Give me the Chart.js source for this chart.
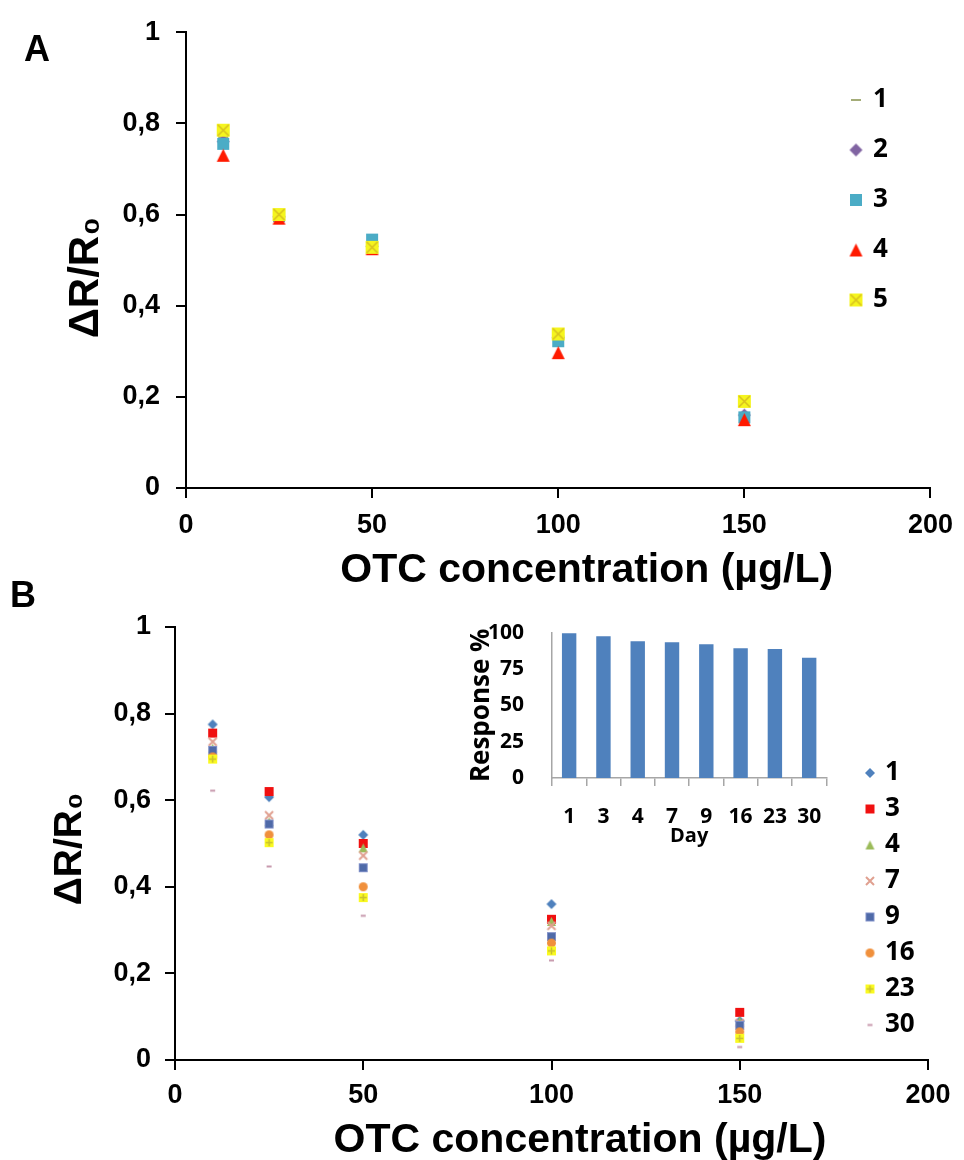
<!DOCTYPE html>
<html>
<head>
<meta charset="utf-8">
<script src="https://cdn.jsdelivr.net/npm/chart.js@4.4.1/dist/chart.umd.min.js"></script>
<style>
  body { margin: 0; background: #fff; }
  #page { position: relative; width: 964px; height: 1160px; overflow: hidden; background: #fff; }
  canvas { position: absolute; }
  .panel { position: absolute; font: bold 36px "Liberation Sans", Arial, sans-serif; color: #000; }
</style>
</head>
<body>
<div id="page">
  <canvas id="chartA" width="964" height="600" style="left:0px;top:0px"></canvas>
  <canvas id="chartB" width="964" height="580" style="left:0px;top:590px"></canvas>
  <canvas id="inset" width="400" height="250" style="left:440px;top:600px"></canvas>
  <div class="panel" style="left:24px;top:28px">A</div>
  <div class="panel" style="left:10px;top:574px">B</div>
</div>
<script>
// x positions shared by both panels
const concentrations = [10, 25, 50, 100, 150];
const yTickLabels = ["0", "0,2", "0,4", "0,6", "0,8", "1"];

// panel A: five repeat measurements
const labelsA = ["1", "2", "3", "4", "5"];
const a1 = [0.77, 0.59, 0.53, 0.33, 0.16];
const a2 = [0.76, 0.595, 0.53, 0.33, 0.16];
const a3 = [0.755, 0.597, 0.545, 0.322, 0.155];
const a4 = [0.73, 0.592, 0.525, 0.297, 0.15];
const a5 = [0.785, 0.6, 0.528, 0.338, 0.19];

// panel B: storage days
const labelsB = ["1", "3", "4", "7", "9", "16", "23", "30"];
const b1 = [0.775, 0.607, 0.52, 0.36, 0.09];
const b3 = [0.755, 0.62, 0.5, 0.325, 0.11];
const b4 = [0.72, 0.55, 0.49, 0.32, 0.09];
const b7 = [0.735, 0.565, 0.472, 0.31, 0.085];
const b9 = [0.715, 0.545, 0.444, 0.285, 0.08];
const b16 = [0.7, 0.52, 0.4, 0.27, 0.065];
const b23 = [0.695, 0.502, 0.375, 0.252, 0.05];
const b30 = [0.622, 0.447, 0.333, 0.23, 0.03];

// inset
const dayLabels = ["1", "3", "4", "7", "9", "16", "23", "30"];
const responsePct = [99.5, 97.5, 94, 93.3, 92, 89.3, 88.7, 82.7];
const insetTicks = [0, 25, 50, 75, 100];

const SANS = '"Liberation Sans", Arial, sans-serif';
const OPEN = '"Open Sans", "Noto Sans", sans-serif';

// small canvases used as point styles (Excel-like markers)
function marker(shape, size, fill, line) {
  const s = size + 4;
  const c = document.createElement("canvas");
  c.width = s; c.height = s;
  const g = c.getContext("2d");
  const m = s / 2, r = size / 2;
  g.fillStyle = fill;
  g.strokeStyle = line || fill;
  g.lineWidth = 1.5;
  if (shape === "dash") {
    g.fillRect(m - r, m - 1, size, 2);
  } else if (shape === "diamond") {
    g.beginPath();
    g.moveTo(m, m - r); g.lineTo(m + r, m); g.lineTo(m, m + r); g.lineTo(m - r, m);
    g.closePath(); g.fill();
  } else if (shape === "square") {
    g.fillRect(m - r, m - r, size, size);
    if (line) { g.lineWidth = 1; g.strokeRect(m - r + 0.5, m - r + 0.5, size - 1, size - 1); }
  } else if (shape === "triangle") {
    g.beginPath();
    g.moveTo(m, m - r); g.lineTo(m + r, m + r); g.lineTo(m - r, m + r);
    g.closePath(); g.fill();
  } else if (shape === "circle") {
    g.beginPath(); g.arc(m, m, r, 0, Math.PI * 2); g.fill();
  } else if (shape === "xbox") {
    g.fillRect(m - r, m - r, size, size);
    g.beginPath();
    g.moveTo(m - r + 1, m - r + 1); g.lineTo(m + r - 1, m + r - 1);
    g.moveTo(m + r - 1, m - r + 1); g.lineTo(m - r + 1, m + r - 1);
    g.stroke();
  } else if (shape === "plusbox") {
    g.fillRect(m - r, m - r, size, size);
    g.beginPath();
    g.moveTo(m, m - r + 1); g.lineTo(m, m + r - 1);
    g.moveTo(m - r + 1, m); g.lineTo(m + r - 1, m);
    g.stroke();
  } else if (shape === "x") {
    g.lineWidth = 2;
    g.beginPath();
    g.moveTo(m - r, m - r); g.lineTo(m + r, m + r);
    g.moveTo(m + r, m - r); g.lineTo(m - r, m + r);
    g.stroke();
  }
  return c;
}

function points(ys) {
  return concentrations.map((x, i) => ({ x: x, y: ys[i] }));
}

function series(label, ys, style, i) {
  return { label: label, data: points(ys), pointStyle: style, order: -i, pointRadius: 7 };
}

// draws the legend inside the plot, using each dataset's marker
const markerLegend = {
  id: "markerLegend",
  afterDatasetsDraw(chart, args, opts) {
    const ctx = chart.ctx;
    ctx.save();
    ctx.font = opts.font;
    ctx.fillStyle = "#000";
    ctx.textBaseline = "middle";
    chart.data.datasets.forEach((ds, i) => {
      const y = opts.top + i * opts.step;
      const img = ds.pointStyle;
      ctx.drawImage(img, opts.markerX - img.width / 2, y - img.height / 2);
      ctx.fillText(ds.label, opts.textX, y);
    });
    ctx.restore();
  }
};

function scatterScales(cfg) {
  return {
    x: {
      type: "linear", min: 0, max: 200,
      ticks: { stepSize: 50, color: "#000", padding: cfg.xPad, font: { family: SANS, size: 27, weight: "bold" } },
      grid: { drawOnChartArea: false, tickLength: 10, color: "#000", lineWidth: 2 },
      border: { color: "#000", width: 2 },
      title: { display: true, text: "     OTC concentration (µg/L)", color: "#000",
        font: { family: SANS, size: 41, weight: "bold" }, padding: { top: 0, bottom: cfg.xTitlePad } },
      afterFit(s) { s.height = cfg.xHeight; }
    },
    y: {
      type: "linear", min: 0, max: 1,
      ticks: { stepSize: 0.2, color: "#000", padding: cfg.yPad,
        font: { family: SANS, size: 27, weight: "bold" },
        callback: (v) => yTickLabels[Math.round(v / 0.2)] },
      grid: { drawOnChartArea: false, tickLength: 10, color: "#000", lineWidth: 2 },
      border: { color: "#000", width: 2 },
      title: { display: true, text: cfg.yTitle, color: "#000",
        font: { family: SANS, size: cfg.yTitleSize, weight: "bold" }, padding: { top: cfg.yTitlePad, bottom: 0 } },
      afterFit(s) { s.width = cfg.yWidth; }
    }
  };
}

new Chart("chartA", {
  type: "scatter",
  data: {
    datasets: [
      series(labelsA[0], a1, marker("dash", 10, "#A4AC78"), 0),
      series(labelsA[1], a2, marker("diamond", 13, "#8064A2"), 1),
      series(labelsA[2], a3, marker("square", 12, "#4BACC6"), 2),
      series(labelsA[3], a4, marker("triangle", 13, "#FF1A00"), 3),
      series(labelsA[4], a5, marker("xbox", 13, "#F5F51E", "#D8C020"), 4)
    ]
  },
  options: {
    responsive: false,
    animation: false,
    layout: { padding: { left: 0, right: 29, top: 30, bottom: 0 } },
    plugins: {
      legend: { display: false },
      tooltip: { enabled: false },
      markerLegend: { top: 100, step: 50, markerX: 856, textX: 873, font: "bold 26px " + OPEN }
    },
    scales: scatterScales({ xPad: 11, xTitlePad: 5, xHeight: 112, yPad: 16,
      yTitle: "ΔR/R₀   ", yTitleSize: 42, yTitlePad: 61, yWidth: 186 })
  },
  plugins: [markerLegend]
});

new Chart("chartB", {
  type: "scatter",
  data: {
    datasets: [
      series(labelsB[0], b1, marker("diamond", 10, "#4F81BD"), 0),
      series(labelsB[1], b3, marker("square", 9, "#F01010"), 1),
      series(labelsB[2], b4, marker("triangle", 9, "#9BBB59"), 2),
      series(labelsB[3], b7, marker("x", 8, "#E0A090"), 3),
      series(labelsB[4], b9, marker("square", 9, "#4F6AA8", "#8090C8"), 4),
      series(labelsB[5], b16, marker("circle", 9, "#F0903C"), 5),
      series(labelsB[6], b23, marker("plusbox", 9, "#FAFA20", "#C8C030"), 6),
      series(labelsB[7], b30, marker("dash", 5, "#C89AAE"), 7)
    ]
  },
  options: {
    responsive: false,
    animation: false,
    layout: { padding: { left: 0, right: 36, top: 37, bottom: 0 } },
    plugins: {
      legend: { display: false },
      tooltip: { enabled: false },
      markerLegend: { top: 183, step: 36, markerX: 870, textX: 885, font: "bold 26px " + OPEN }
    },
    scales: scatterScales({ xPad: 9, xTitlePad: 5, xHeight: 110, yPad: 14,
      yTitle: "ΔR/R₀ ", yTitleSize: 39, yTitlePad: 47, yWidth: 175 })
  },
  plugins: [markerLegend]
});

new Chart("inset", {
  type: "bar",
  data: {
    labels: dayLabels,
    datasets: [{ data: responsePct, backgroundColor: "#4F81BD", barPercentage: 0.42, categoryPercentage: 1 }]
  },
  options: {
    responsive: false,
    animation: false,
    layout: { padding: { left: 0, right: 13, top: 28, bottom: 0 } },
    plugins: { legend: { display: false }, tooltip: { enabled: false } },
    scales: {
      x: {
        ticks: { color: "#000", padding: 18, maxRotation: 0, autoSkip: false, font: { family: OPEN, size: 21, weight: "bold" } },
        grid: { drawOnChartArea: false, tickLength: 8, color: "#A6A6A6", lineWidth: 1.5, offset: true },
        border: { color: "#A6A6A6", width: 1.5 },
        title: { display: true, text: "Day", color: "#000", font: { family: OPEN, size: 20, weight: "bold" }, padding: { top: 0, bottom: 2 } },
        afterFit(s) { s.height = 72; }
      },
      y: {
        min: 0, max: 100,
        afterBuildTicks(s) { s.ticks = insetTicks.map((v) => ({ value: v })); },
        ticks: { color: "#000", padding: 20, font: { family: OPEN, size: 21, weight: "bold" } },
        grid: { display: false },
        border: { color: "#A6A6A6", width: 1.5 },
        title: { display: true, text: "Response %", color: "#000", font: { family: OPEN, size: 26, weight: "bold" }, padding: { top: 26, bottom: 0 } },
        afterFit(s) { s.width = 112; }
      }
    }
  }
});
</script>
</body>
</html>
